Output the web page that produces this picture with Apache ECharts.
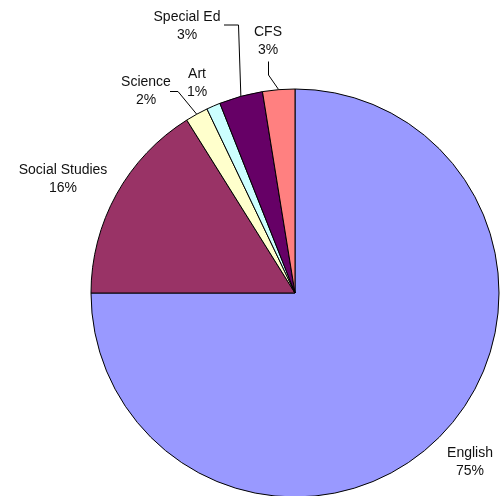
<!DOCTYPE html>
<html>
<head>
<meta charset="utf-8">
<script src="https://cdn.jsdelivr.net/npm/echarts@6/dist/echarts.min.js"></script>
<style>html,body{margin:0;padding:0;background:#fff}#c{width:504px;height:496px}</style>
</head>
<body>
<div id="c"></div>
<script>
var categories = ['English', 'Social Studies', 'Science', 'Art', 'Special Ed', 'CFS'];
var values = [75.0, 16.1, 1.8, 1.1, 3.45, 2.55];
var colors = ['#9999FF', '#993366', '#FFFFCC', '#CCFFFF', '#660066', '#FF8080'];

// label layout (screen placement of text + leader line bends)
var labelPos = {
  'English': {x: 470, y: 462, line: null},
  'Social Studies': {x: 63, y: 179, line: null},
  'Science': {x: 146, y: 91, line: [[170, 91.5], [178, 91.5]]},
  'Art': {x: 197, y: 83, line: null},
  'Special Ed': {x: 187, y: 26, line: [[224, 25], [238.5, 25]]},
  'CFS': {x: 268, y: 41, line: [[268.5, 61.5], [268.5, 75]]}
};

var data = categories.map(function (n, i) {
  var item = {name: n, value: values[i], itemStyle: {color: colors[i]}};
  if (!labelPos[n].line) item.labelLine = {show: false};
  return item;
});

var total = values.reduce(function (a, b) { return a + b; }, 0);
var chart = echarts.init(document.getElementById('c'), null, {renderer: 'canvas'});
chart.setOption({
  animation: false,
  backgroundColor: '#ffffff',
  series: [{
    type: 'pie',
    center: [295, 293],
    radius: 204,
    startAngle: 90,
    clockwise: true,
    avoidLabelOverlap: false,
    itemStyle: {borderColor: '#000', borderWidth: 1},
    label: {
      show: true,
      position: 'outside',
      color: '#111',
      fontFamily: 'Liberation Sans, Arial, sans-serif',
      fontSize: 14,
      lineHeight: 18.5,
      align: 'center',
      formatter: function (p) {
        return p.name + '\n' + Math.round(p.value / total * 100) + '%';
      }
    },
    labelLine: {show: true, lineStyle: {color: '#000', width: 1}},
    emphasis: {disabled: true},
    labelLayout: function (params) {
      var n = categories[params.dataIndex];
      var lp = labelPos[n];
      var out = {x: lp.x, y: lp.y, align: 'center', verticalAlign: 'middle', hideOverlap: false, moveOverlap: false};
      if (lp.line && params.labelLinePoints) {
        var start = params.labelLinePoints[0];
        out.labelLinePoints = [start, lp.line[1], lp.line[0]];
      }
      return out;
    },
    data: data
  }]
});
</script>
</body>
</html>
